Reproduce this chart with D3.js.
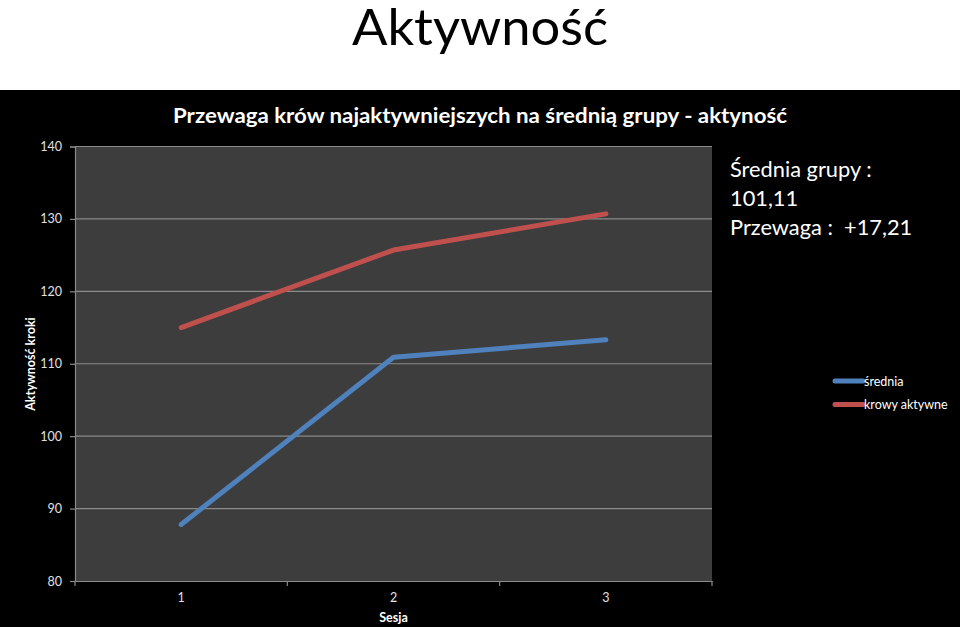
<!DOCTYPE html>
<html>
<head>
<meta charset="utf-8">
<script src="https://cdn.jsdelivr.net/npm/d3@7"></script>
<style>
  html, body { margin: 0; padding: 0; background: #fff; }
  svg { display: block; }
  text { font-family: Lato, "Open Sans", sans-serif; }
</style>
</head>
<body>
<svg id="chart" width="960" height="627"></svg>
<script>
// ---- data ----
const categories = ["1", "2", "3"];
const sredniaValues = [87.8, 110.9, 113.3];
const krowyValues = [115.0, 125.7, 130.7];
const seriesNames = ["średnia", "krowy aktywne"];
const yTicks = [80, 90, 100, 110, 120, 130, 140];
const pageTitle = "Aktywność";
const chartTitle = "Przewaga krów najaktywniejszych na średnią grupy - aktyność";
const annotationLines = ["Średnia grupy :", "101,11", "Przewaga :  +17,21"];
const xAxisTitle = "Sesja";
const yAxisTitle = "Aktywność kroki";

// ---- layout ----
const W = 960, H = 627;
const svg = d3.select("#chart");
const plot = { left: 75, right: 712, top: 146.5, bottom: 581 };

svg.append("rect").attr("x", 0).attr("y", 0).attr("width", W).attr("height", 90).attr("fill", "#fff");
svg.append("rect").attr("x", 0).attr("y", 90).attr("width", W).attr("height", H - 90).attr("fill", "#000");

svg.append("text").attr("x", 480).attr("y", 45).attr("text-anchor", "middle")
  .attr("font-size", 51).attr("fill", "#000")
  .attr("textLength", 256).attr("lengthAdjust", "spacingAndGlyphs").text(pageTitle);

svg.append("text").attr("x", 480).attr("y", 123).attr("text-anchor", "middle")
  .attr("font-size", 20.5).attr("font-weight", "bold").attr("fill", "#fff")
  .attr("textLength", 614).attr("lengthAdjust", "spacingAndGlyphs").text(chartTitle);

const x = d3.scaleBand().domain(categories).range([plot.left, plot.right]).paddingInner(0).paddingOuter(0);
const y = d3.scaleLinear().domain([80, 140]).range([plot.bottom, plot.top]);

// plot background
svg.append("rect").attr("x", plot.left).attr("y", plot.top)
  .attr("width", plot.right - plot.left).attr("height", plot.bottom - plot.top).attr("fill", "#3d3d3d");

// gridlines
svg.append("g").selectAll("line").data(yTicks.filter(d => d !== 80)).join("line")
  .attr("x1", plot.left).attr("x2", plot.right)
  .attr("y1", d => y(d)).attr("y2", d => y(d))
  .attr("stroke", "#8a8a8a").attr("stroke-width", 1.2);

// y axis
const yAxis = svg.append("g").attr("transform", `translate(${plot.left},0)`)
  .call(d3.axisLeft(y).tickValues(yTicks).tickSize(5).tickPadding(8));
yAxis.select(".domain").attr("stroke", "#8a8a8a").attr("stroke-width", 1.2);
yAxis.selectAll(".tick line").attr("stroke", "#8a8a8a").attr("stroke-width", 1.2);
yAxis.selectAll(".tick text").attr("fill", "#e0e0e0").attr("font-size", 12.5)
  .attr("font-family", "Lato, sans-serif");

// x axis
const xAxis = svg.append("g").attr("transform", `translate(0,${plot.bottom})`)
  .call(d3.axisBottom(x).tickSize(0).tickPadding(12));
xAxis.select(".domain").attr("stroke", "#8a8a8a").attr("stroke-width", 1.2);
xAxis.selectAll(".tick text").attr("fill", "#e0e0e0").attr("font-size", 12.5)
  .attr("font-family", "Lato, sans-serif");
// boundary tick marks between categories
const boundaries = categories.map(c => x(c)).concat([x(categories[categories.length - 1]) + x.bandwidth()]);
svg.append("g").selectAll("line").data(boundaries).join("line")
  .attr("x1", d => d).attr("x2", d => d)
  .attr("y1", plot.bottom).attr("y2", plot.bottom + 5)
  .attr("stroke", "#8a8a8a").attr("stroke-width", 1.2);

// axis titles
svg.append("text").attr("x", x("2") + x.bandwidth() / 2).attr("y", 622).attr("text-anchor", "middle")
  .attr("font-size", 12.5).attr("font-weight", "bold").attr("fill", "#fff").text(xAxisTitle);
svg.append("text").attr("transform", "translate(35,364) rotate(-90)").attr("text-anchor", "middle")
  .attr("font-size", 12.5).attr("font-weight", "bold").attr("fill", "#fff").text(yAxisTitle);

// lines
const colors = ["#4f81bd", "#c0504d"];
const allSeries = [sredniaValues, krowyValues];
const line = d3.line().x((d, i) => x(categories[i]) + x.bandwidth() / 2).y(d => y(d));
svg.append("g").selectAll("path").data(allSeries).join("path")
  .attr("d", d => line(d)).attr("fill", "none")
  .attr("stroke", (d, i) => colors[i]).attr("stroke-width", 5)
  .attr("stroke-linecap", "round").attr("stroke-linejoin", "round");

// annotation
svg.append("g").selectAll("text").data(annotationLines).join("text")
  .attr("x", 730).attr("y", (d, i) => 177 + i * 29)
  .attr("font-size", 21.8).attr("fill", "#fff").attr("xml:space", "preserve")
  .style("white-space", "pre").text(d => d);

// legend
const legend = svg.append("g").selectAll("g").data(seriesNames).join("g")
  .attr("transform", (d, i) => `translate(835,${381 + i * 23.5})`);
legend.append("line").attr("x1", 0).attr("x2", 28).attr("y1", 0).attr("y2", 0)
  .attr("stroke", (d, i) => colors[i]).attr("stroke-width", 5).attr("stroke-linecap", "round");
legend.append("text").attr("x", 29).attr("y", 4.5).attr("font-size", 12.5).attr("fill", "#fff").text(d => d);
</script>
</body>
</html>
